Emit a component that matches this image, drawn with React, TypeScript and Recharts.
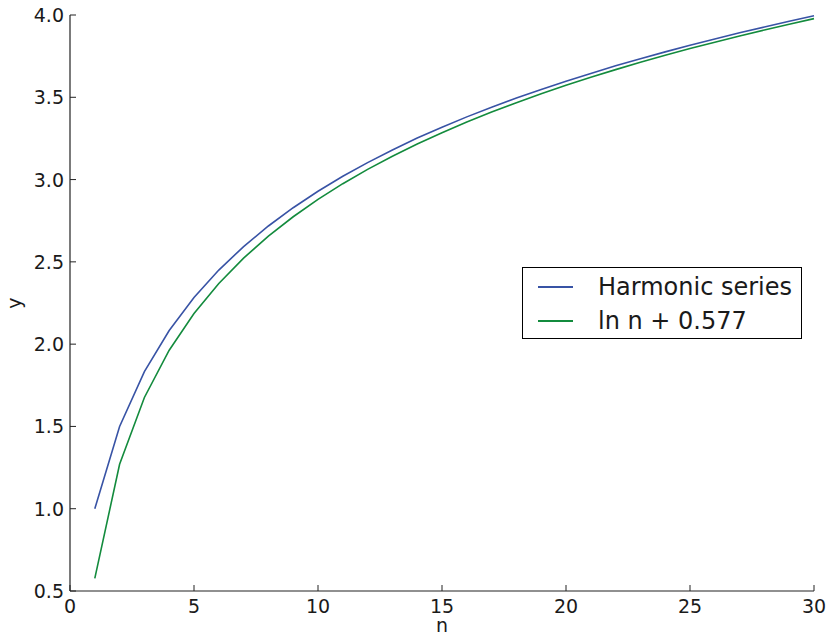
import React from 'react';
import { LineChart, Line, XAxis, YAxis, Legend } from 'recharts';

// n = 1..30
const nValues = [
  1, 2, 3, 4, 5, 6, 7, 8, 9, 10, 11, 12, 13, 14, 15, 16, 17, 18, 19, 20, 21, 22, 23, 24, 25, 26, 27, 28,
  29, 30,
];

const harmonic = [
  1.0, 1.5, 1.833, 2.083, 2.283, 2.45, 2.593, 2.718, 2.829, 2.929, 3.02, 3.103, 3.18, 3.252, 3.318,
  3.381, 3.44, 3.495, 3.548, 3.598, 3.645, 3.691, 3.734, 3.776, 3.816, 3.854, 3.892, 3.927, 3.962,
  3.995,
];

const lnApprox = [
  0.577, 1.27, 1.676, 1.963, 2.186, 2.369, 2.523, 2.656, 2.774, 2.88, 2.975, 3.062, 3.142, 3.216,
  3.285, 3.35, 3.41, 3.467, 3.521, 3.573, 3.622, 3.668, 3.713, 3.755, 3.796, 3.835, 3.873, 3.909,
  3.944, 3.978,
];

const xTicks = [0, 5, 10, 15, 20, 25, 30];
const yTicks = [0.5, 1.0, 1.5, 2.0, 2.5, 3.0, 3.5, 4.0];

const SERIES = [
  { key: 'harmonic', name: 'Harmonic series', color: '#3853a5' },
  { key: 'ln', name: 'ln n + 0.577', color: '#138b3d' },
];

const data = nValues.map((n, i) => ({ n, harmonic: harmonic[i], ln: lnApprox[i] }));

const FONT = '"DejaVu Sans", sans-serif';
const TICK_LEN = 6;
const TEXT = '#1a1a1a';
const AXIS = '#222';

const BottomTick = (props: any) => {
  const { x, y, payload } = props;
  return (
    <g>
      <line x1={x} x2={x} y1={y} y2={y - TICK_LEN} stroke={AXIS} strokeWidth={1} />
      <text x={x} y={y + 22} textAnchor="middle" fontSize={19} fontFamily={FONT} fill={TEXT}>
        {payload.value}
      </text>
    </g>
  );
};

const TopTick = (props: any) => {
  const { x, y } = props;
  return <line x1={x} x2={x} y1={y} y2={y + TICK_LEN} stroke={AXIS} strokeWidth={1} />;
};

const LeftTick = (props: any) => {
  const { x, y, payload } = props;
  return (
    <g>
      <line x1={x} x2={x + TICK_LEN} y1={y} y2={y} stroke={AXIS} strokeWidth={1} />
      <text x={x - 6} y={y + 7} textAnchor="end" fontSize={19} fontFamily={FONT} fill={TEXT}>
        {Number(payload.value).toFixed(1)}
      </text>
    </g>
  );
};

const RightTick = (props: any) => {
  const { x, y } = props;
  return <line x1={x} x2={x - TICK_LEN} y1={y} y2={y} stroke={AXIS} strokeWidth={1} />;
};

const XLabel = (props: any) => {
  const vb = props.viewBox;
  return (
    <text x={vb.x + vb.width / 2} y={vb.y + vb.height - 3} textAnchor="middle" fontSize={19} fontFamily={FONT} fill={TEXT}>
      n
    </text>
  );
};

const YLabel = (props: any) => {
  const vb = props.viewBox;
  const cx = vb.x + 21;
  const cy = vb.y + vb.height / 2;
  return (
    <text x={cx} y={cy} transform={`rotate(-90 ${cx} ${cy})`} textAnchor="middle" fontSize={19} fontFamily={FONT} fill={TEXT}>
      y
    </text>
  );
};

const LegendBox = () => (
  <div
    style={{
      border: '1px solid #000',
      background: '#fff',
      width: 280,
      height: 72,
      boxSizing: 'border-box',
      fontFamily: FONT,
      fontSize: 24,
      color: TEXT,
      paddingTop: 2,
    }}
  >
    {SERIES.map((s) => (
      <div key={s.key} style={{ display: 'flex', alignItems: 'center', height: 34, whiteSpace: 'nowrap' }}>
        <div style={{ width: 35, height: 2, background: s.color, marginLeft: 15, marginRight: 25 }} />
        <span style={{ lineHeight: '34px' }}>{s.name}</span>
      </div>
    ))}
  </div>
);

export default function App() {
  return (
    <div style={{ position: 'absolute', left: 0, top: 0, width: 830, height: 635, background: '#fff' }}>
      <LineChart width={830} height={635} data={data} margin={{ top: 15, right: 16, bottom: 0, left: 0 }}>
        <XAxis
          dataKey="n"
          type="number"
          domain={[0, 30]}
          ticks={xTicks}
          height={44}
          tickSize={0}
          tickMargin={0}
          tick={<BottomTick />}
          axisLine={{ stroke: AXIS, strokeWidth: 1.2 }}
          label={<XLabel />}
        />
        <XAxis
          xAxisId="top"
          dataKey="n"
          type="number"
          orientation="top"
          domain={[0, 30]}
          ticks={xTicks}
          height={0}
          tickSize={0}
          tickMargin={0}
          tick={<TopTick />}
          axisLine={{ stroke: AXIS, strokeWidth: 1.2 }}
        />
        <YAxis
          type="number"
          domain={[0.5, 4]}
          ticks={yTicks}
          width={70}
          tickSize={0}
          tickMargin={0}
          tick={<LeftTick />}
          axisLine={{ stroke: AXIS, strokeWidth: 1.2 }}
          label={<YLabel />}
        />
        <YAxis
          yAxisId="r"
          orientation="right"
          type="number"
          domain={[0.5, 4]}
          ticks={yTicks}
          width={0}
          tickSize={0}
          tickMargin={0}
          tick={<RightTick />}
          axisLine={{ stroke: AXIS, strokeWidth: 1.2 }}
        />
        <Legend
          layout="horizontal"
          verticalAlign="middle"
          align="center"
          content={<LegendBox />}
          wrapperStyle={{ position: 'absolute', left: 522, top: 267, width: 280 }}
        />
        {SERIES.map((s) => (
          <Line
            key={s.key}
            dataKey={s.key}
            name={s.name}
            stroke={s.color}
            strokeWidth={1.6}
            dot={false}
            type="linear"
            isAnimationActive={false}
          />
        ))}
      </LineChart>
    </div>
  );
}
